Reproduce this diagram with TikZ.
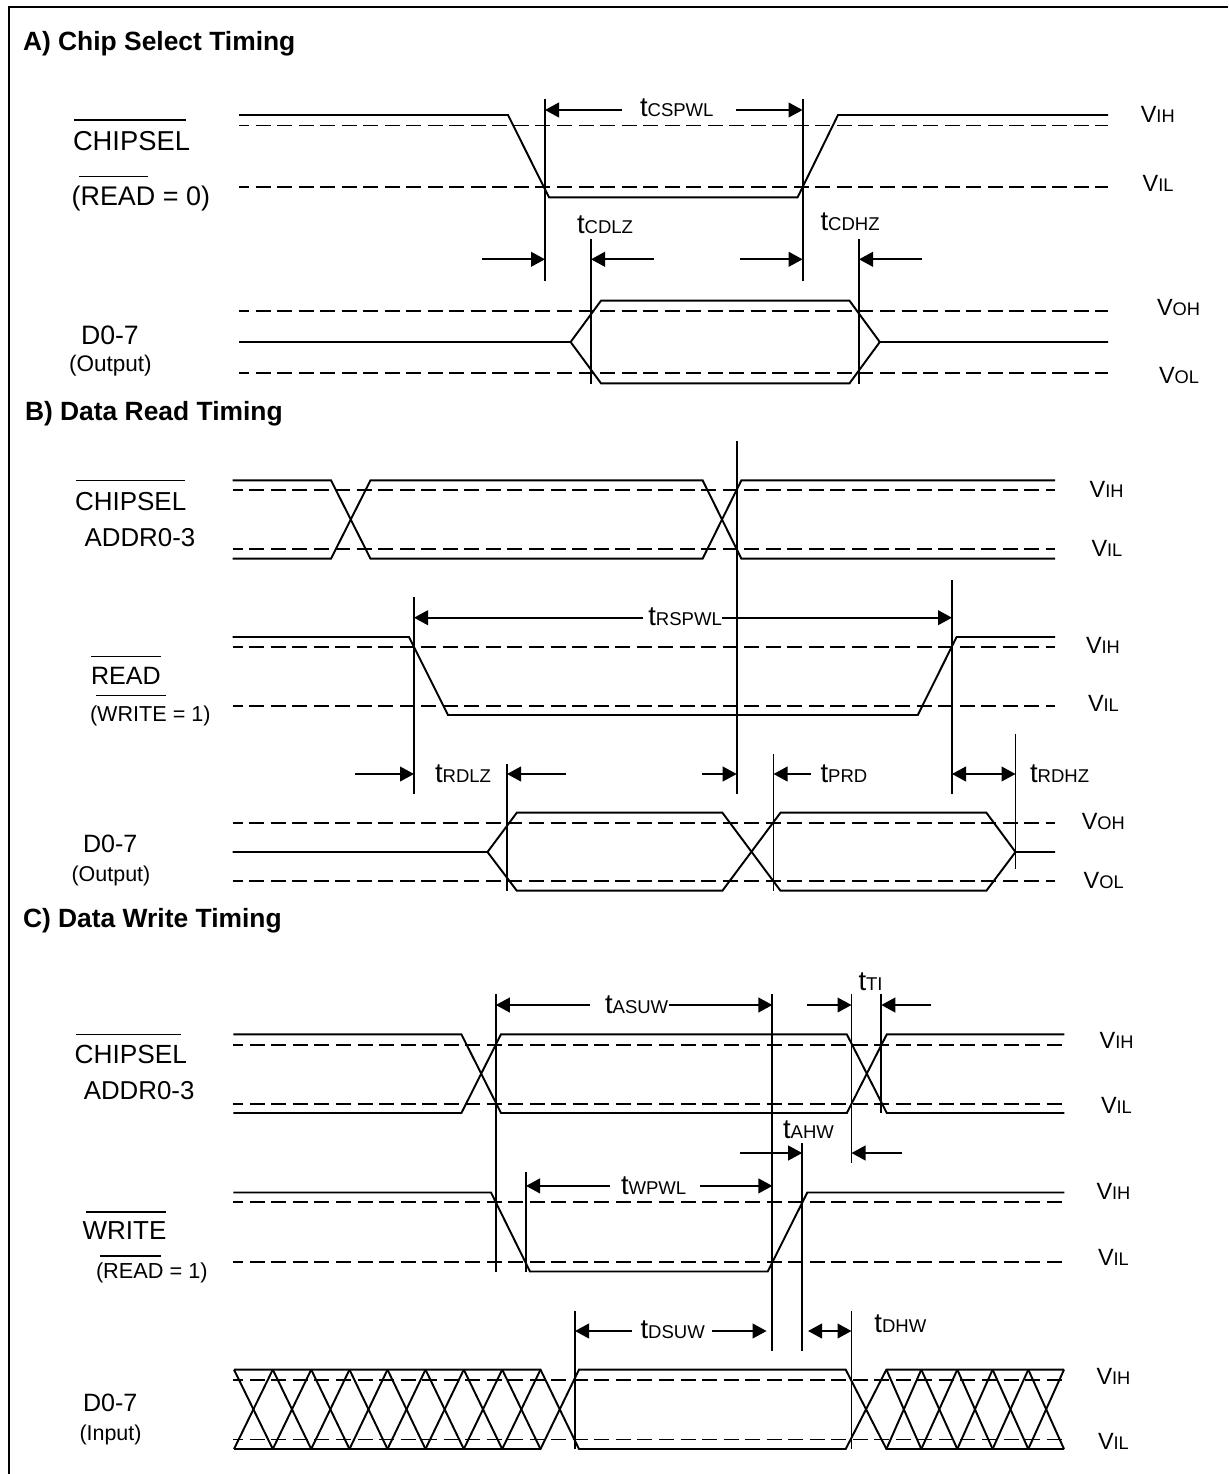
\documentclass[tikz,border=0pt]{standalone}
\usepackage{fontspec}
\setmainfont{Liberation Sans}
\usetikzlibrary{arrows.meta}
\newcommand{\fz}[1]{\fontsize{#1pt}{#1pt}\selectfont}
\newcommand{\tsub}[1]{{\fz{20.6}t\fz{13.9}#1}}
\newcommand{\vsub}[1]{{\fz{17.6}V\fz{13.7}#1}}
\tikzset{
  px/.style={x=0.75pt,y=-0.75pt},
  sig/.style={line width=1.45pt,line join=miter},
  lvl/.style={line width=1.45pt,dash pattern=on 11.25pt off 4.9pt,dash phase=3.75pt},
  mark line/.style={line width=1.45pt},
  over/.style={line width=1.1pt},
  dim/.style={line width=1.45pt,-{Triangle[length=10.5pt,width=11pt]}},
  dimboth/.style={line width=1.45pt,{Triangle[length=10.5pt,width=11pt]}-{Triangle[length=10.5pt,width=11pt]}},
  lab/.style={anchor=base west,inner sep=0pt,outer sep=0pt},
  sect/.style={lab,font=\bfseries\fz{19.8}},
}
\begin{document}
\begin{tikzpicture}[px]
\useasboundingbox (0,0) rectangle (1228,1474);
% frame
\draw[line width=1.9pt] (9,1474) -- (9,7) -- (1228,7);

% ===== A =====
\node[sect] (ta) at (23,50) {A) Chip Select Timing};
\node[lab,font=\fz{20.5}] (a1) at (73,150.7) {CHIPSEL};
\draw[over] (74,120) -- (186,120);
\node[lab,font=\fz{20.2}] (a2) at (71.6,205) {(READ = 0)};
\draw[over] (79,176.7) -- (147.5,176.7);
\node[lab,font=\fz{20}] (a3) at (81,344) {D0-7};
\node[lab,font=\fz{16.9}] (a4) at (69,371.7) {(Output)};
\foreach \y in {125.5,187.3,311.3,373.3} \draw[lvl] (239,\y) -- (1108,\y);
\draw[sig] (239,115) -- (508,115) -- (549,197.3) -- (797.6,197.3) -- (838,115) -- (1108,115);
\draw[sig] (239,342) -- (570.6,342) -- (601,300.7) -- (849.5,300.7) -- (879.8,342) -- (1108,342);
\draw[sig] (570.6,342) -- (601,383.3) -- (849.5,383.3) -- (879.8,342);
\draw[mark line] (545,99) -- (545,281);
\draw[mark line] (802.6,99) -- (802.6,281);
\draw[mark line] (591,238.7) -- (591,384);
\draw[mark line] (859,238.7) -- (859,384);
\draw[dim] (622,110) -- (545,110);
\draw[dim] (736,110) -- (802.6,110);
\draw[dim] (482,259.3) -- (545,259.3);
\draw[dim] (653.7,259.3) -- (591,259.3);
\draw[dim] (740,259.3) -- (802.6,259.3);
\draw[dim] (921.7,259.3) -- (859,259.3);
\node[lab] (a5) at (640,116.7) {\tsub{CSPWL}};
\node[lab] (a6) at (577,233.3) {\tsub{CDLZ}};
\node[lab] (a7) at (820.5,230) {\tsub{CDHZ}};
\node[lab] (a8) at (1140.8,122) {\vsub{IH}};
\node[lab] (a9) at (1142.7,191) {\vsub{IL}};
\node[lab] (a10) at (1157,315) {\vsub{OH}};
\node[lab] (a11) at (1159,383) {\vsub{OL}};

% ===== B =====
\node[sect] (tb) at (25,420) {B) Data Read Timing};
\node[lab,font=\fz{19.5}] (b1) at (75,510) {CHIPSEL};
\draw[over] (76,480.3) -- (185,480.3);
\node[lab,font=\fz{19.4}] (b2) at (84.6,546) {ADDR0-3};
\node[lab,font=\fz{18.8}] (b3) at (91,684) {READ};
\draw[over] (91,656.7) -- (161,656.7);
\node[lab,font=\fz{16.2}] (b4) at (90,721.7) {(WRITE = 1)};
\draw[over] (95.7,695.7) -- (166,695.7);
\node[lab,font=\fz{18.8}] (b5) at (83,852.7) {D0-7};
\node[lab,font=\fz{16.1}] (b6) at (71.6,881.7) {(Output)};
\foreach \y in {490.3,549,647,705.7,822.7,881.3} \draw[lvl] (232.5,\y) -- (1055,\y);
\draw[sig] (232.5,480.3) -- (331,480.3) -- (370.5,558.7) -- (702.6,558.7) -- (741.4,480.3) -- (1055,480.3);
\draw[sig] (232.5,558.7) -- (331,558.7) -- (370.5,480.3) -- (702.6,480.3) -- (741.4,558.7) -- (1055,558.7);
\draw[sig] (232.5,637) -- (409,637) -- (448,715) -- (917.8,715) -- (956.6,637) -- (1055,637);
\draw[sig] (232.5,852) -- (487.5,852) -- (516.8,812.7) -- (722.4,812.7) -- (780.5,890.7) -- (986.4,890.7) -- (1015.5,852) -- (1055,852);
\draw[sig] (487.5,852) -- (516.8,890.7) -- (722.4,890.7) -- (780.5,812.7) -- (986.4,812.7) -- (1015.5,852);
\draw[mark line] (736.7,441) -- (736.7,793.7);
\draw[mark line] (414,597.3) -- (414,793.7);
\draw[mark line] (952,580.3) -- (952,793.7);
\draw[mark line] (507,764) -- (507,891);
\draw[mark line] (773.5,754) -- (773.5,891);
\draw[mark line] (1015.5,734.3) -- (1015.5,869.3);
\draw[dim] (642.5,617.7) -- (414,617.7);
\draw[dim] (722,617.7) -- (952,617.7);
\draw[dim] (355,774) -- (414,774);
\draw[dim] (566,774) -- (507,774);
\draw[dim] (701.8,774) -- (736.7,774);
\draw[dim] (810.8,774) -- (773.5,774);
\draw[dimboth] (952,774) -- (1015.5,774);
\node[lab] (b7) at (648.3,625) {\tsub{RSPWL}};
\node[lab] (b8) at (435,782.3) {\tsub{RDLZ}};
\node[lab] (b9) at (820.5,782.3) {\tsub{PRD}};
\node[lab] (b10) at (1030,782.3) {\tsub{RDHZ}};
\node[lab] (b11) at (1089.6,497.3) {\vsub{IH}};
\node[lab] (b12) at (1091.5,556) {\vsub{IL}};
\node[lab] (b13) at (1086,653) {\vsub{IH}};
\node[lab] (b14) at (1088,711.7) {\vsub{IL}};
\node[lab] (b15) at (1081.8,829.3) {\vsub{OH}};
\node[lab] (b16) at (1083.7,888.3) {\vsub{OL}};

% ===== C =====
\node[sect] (tc) at (23,927.5) {C) Data Write Timing};
\node[lab,font=\fz{19.7}] (c1) at (74.7,1063.6) {CHIPSEL};
\draw[over] (76,1034.3) -- (181,1034.3);
\node[lab,font=\fz{19.4}] (c2) at (83.8,1099.9) {ADDR0-3};
\node[lab,font=\fz{19.5}] (c3) at (82.6,1239.7) {WRITE};
\draw[over] (86.2,1212.2) -- (166,1212.2);
\node[lab,font=\fz{16.3}] (c4) at (96,1278) {(READ = 1)};
\draw[over] (100.4,1256) -- (161,1256);
\node[lab,font=\fz{18.8}] (c5) at (83,1411) {D0-7};
\node[lab,font=\fz{16.1}] (c6) at (79.5,1440) {(Input)};
\foreach \y in {1044.6,1103.9,1202.3,1261.6,1380.2,1439.5} \draw[lvl] (233.3,\y) -- (1064.4,\y);
\draw[sig] (233.3,1034.3) -- (461.4,1034.3) -- (501,1113) -- (846.8,1113) -- (886.8,1034.3) -- (1064.4,1034.3);
\draw[sig] (233.3,1113) -- (461.4,1113) -- (501,1034.3) -- (846.8,1034.3) -- (886.8,1113) -- (1064.4,1113);
\draw[sig] (233.3,1192.5) -- (491,1192.5) -- (530,1271.5) -- (767.7,1271.5) -- (807.3,1192.5) -- (1064.4,1192.5);
% invalid-data bands
\draw[sig] (234,1369.6) -- (540.5,1369.6) -- (579,1449) -- (845.7,1449) -- (886.4,1369.6) -- (1064,1369.6);
\draw[sig] (234,1449) -- (540.5,1449) -- (579,1369.6) -- (845.7,1369.6) -- (886.4,1449) -- (1064,1449);
\foreach \a/\b in {234/272.8,272.8/311.2,311.2/349.5,349.5/387.5,387.5/425.5,425.5/463.8,463.8/502.2,502.2/540.5,886.4/921.3,921.3/957.3,957.3/992.6,992.6/1028.3,1028.3/1064}{
  \draw[sig] (\a,1369.6) -- (\b,1449);
  \draw[sig] (\a,1449) -- (\b,1369.6);
}
\draw[mark line] (495.8,994.4) -- (495.8,1271.5);
\draw[mark line] (772.4,994.4) -- (772.4,1351);
\draw[mark line] (851.5,994.4) -- (851.5,1162.8);
\draw[mark line] (881.3,994.4) -- (881.3,1113);
\draw[mark line] (802.2,1143) -- (802.2,1351);
\draw[mark line] (526,1172.3) -- (526,1271.5);
\draw[mark line] (575,1310.7) -- (575,1449);
\draw[mark line] (851.5,1310.7) -- (851.5,1449);
\draw[dim] (590.3,1005) -- (495.8,1005);
\draw[dim] (668.5,1005) -- (772.4,1005);
\draw[dim] (806.5,1005) -- (851.5,1005);
\draw[dim] (931,1005) -- (881.3,1005);
\draw[dim] (739.8,1153) -- (802.2,1153);
\draw[dim] (902,1153) -- (851.5,1153);
\draw[dim] (610,1185.9) -- (526,1185.9);
\draw[dim] (699.5,1185.9) -- (772.4,1185.9);
\draw[dim] (631.6,1331) -- (575,1331);
\draw[dim] (712.3,1331) -- (766.6,1331);
\draw[dimboth] (808,1331) -- (851.5,1331);
\node[lab] (c7) at (605,1013.5) {\tsub{ASUW}};
\node[lab] (c8) at (858.5,990) {\tsub{TI}};
\node[lab] (c9) at (783,1138.6) {\tsub{AHW}};
\node[lab] (c10) at (621,1194) {\tsub{WPWL}};
\node[lab] (c11) at (640.5,1338.5) {\tsub{DSUW}};
\node[lab] (c12) at (874.4,1332) {\tsub{DHW}};
\node[lab] (c13) at (1099.6,1048) {\vsub{IH}};
\node[lab] (c14) at (1101,1113.4) {\vsub{IL}};
\node[lab] (c15) at (1096.5,1199) {\vsub{IH}};
\node[lab] (c16) at (1098,1265) {\vsub{IL}};
\node[lab] (c17) at (1096.5,1384) {\vsub{IH}};
\node[lab] (c18) at (1098,1449) {\vsub{IL}};
\end{tikzpicture}
\end{document}
